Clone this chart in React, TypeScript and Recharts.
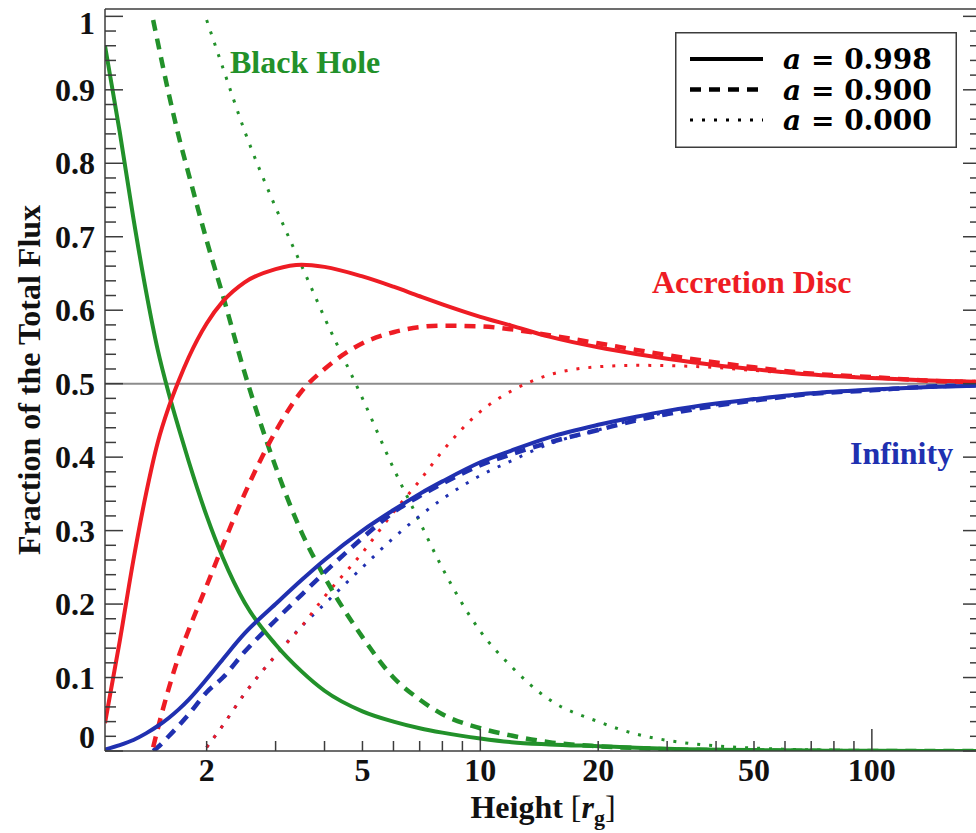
import { Legend, Line, LineChart, ReferenceLine, XAxis, YAxis } from 'recharts';

// heights (r_g) sampled for each spin; lines start at the horizon
const heightsA998 = [1.1, 1.2, 1.3, 1.4, 1.5, 1.6, 1.7, 1.8, 2, 2.2, 2.5, 3, 3.5, 4, 5, 6, 7, 8, 10, 12, 15, 20, 25, 30, 40, 50, 70, 100, 140, 190];
const heightsA900 = [1.46, 1.5, 1.6, 1.7, 1.8, 2, 2.2, 2.5, 3, 3.5, 4, 5, 6, 7, 8, 10, 12, 15, 20, 25, 30, 40, 50, 70, 100, 140, 190];
const heightsA000 = [2, 2.2, 2.5, 3, 3.5, 4, 5, 6, 7, 8, 10, 12, 15, 20, 25, 30, 40, 50, 70, 100, 140, 190];

// fraction of flux hitting the black hole
const holeA998 = [0.96, 0.842, 0.725, 0.626, 0.546, 0.487, 0.438, 0.394, 0.32, 0.263, 0.202, 0.145, 0.108, 0.082, 0.054, 0.04, 0.031, 0.025, 0.017, 0.012, 0.009, 0.0065, 0.0045, 0.003, 0.0018, 0.0012, 0.0006, 0.0003, 0.0001, 0];
const holeA900 = [0.995, 0.965, 0.895, 0.835, 0.785, 0.695, 0.62, 0.515, 0.387, 0.297, 0.237, 0.155, 0.1, 0.07, 0.05, 0.031, 0.021, 0.012, 0.0065, 0.004, 0.0025, 0.0012, 0.0007, 0.0003, 0.0001, 0, 0];
const holeA000 = [0.995, 0.93, 0.844, 0.74, 0.66, 0.59, 0.48, 0.385, 0.312, 0.249, 0.163, 0.115, 0.07, 0.04, 0.023, 0.0145, 0.007, 0.004, 0.0015, 0.0005, 0.0002, 0];

// fraction hitting the accretion disc
const discA998 = [0.038, 0.15, 0.26, 0.35, 0.42, 0.468, 0.505, 0.536, 0.582, 0.612, 0.638, 0.656, 0.662, 0.659, 0.646, 0.632, 0.619, 0.608, 0.591, 0.579, 0.564, 0.5495, 0.5405, 0.534, 0.5252, 0.5198, 0.5124, 0.5077, 0.5044, 0.5025];
const discA900 = [0.005, 0.03, 0.085, 0.13, 0.165, 0.225, 0.28, 0.35, 0.435, 0.49, 0.52, 0.555, 0.57, 0.577, 0.579, 0.578, 0.574, 0.566, 0.555, 0.546, 0.539, 0.5288, 0.5223, 0.5137, 0.5089, 0.504, 0.502];
const discA000 = [0.005, 0.035, 0.078, 0.13, 0.17, 0.21, 0.27, 0.325, 0.368, 0.408, 0.462, 0.49, 0.512, 0.523, 0.525, 0.5245, 0.522, 0.518, 0.5125, 0.5085, 0.5048, 0.503];

// fraction escaping to infinity
const infA998 = [0.002, 0.008, 0.015, 0.024, 0.034, 0.045, 0.057, 0.07, 0.098, 0.125, 0.16, 0.2, 0.233, 0.26, 0.3, 0.328, 0.35, 0.367, 0.393, 0.409, 0.427, 0.444, 0.455, 0.463, 0.473, 0.479, 0.487, 0.492, 0.4955, 0.4975];
const infA900 = [0, 0.005, 0.02, 0.035, 0.05, 0.08, 0.1, 0.135, 0.178, 0.213, 0.243, 0.29, 0.325, 0.347, 0.364, 0.389, 0.404, 0.42, 0.437, 0.45, 0.4585, 0.47, 0.477, 0.486, 0.491, 0.496, 0.498];
const infA000 = [0.005, 0.035, 0.078, 0.13, 0.17, 0.2, 0.25, 0.29, 0.32, 0.343, 0.375, 0.395, 0.418, 0.437, 0.452, 0.461, 0.471, 0.478, 0.486, 0.491, 0.495, 0.497];

const xTicks = [2, 3, 4, 5, 6, 7, 8, 9, 10, 20, 30, 40, 50, 60, 70, 80, 90, 100];
const xLabels = [2, 5, 10, 20, 50, 100];
const xMajor = [10, 100];
const yTicks = Array.from({ length: 51 }, (_, i) => Math.round(i * 2) / 100);

const GREEN = '#22912a';
const RED = '#ee1c24';
const BLUE = '#2030b0';
const AXIS = '#3c3c3c';
const SERIF = '"Liberation Serif", "Times New Roman", serif';
const TEX = '"DejaVu Serif", serif';

const series = (xs: number[], ys: number[]) => xs.map((x, i) => ({ x, y: ys[i] }));

const styles = {
  solid: { strokeWidth: 4, strokeDasharray: undefined },
  dashed: { strokeWidth: 4.5, strokeDasharray: '11 8' },
  dotted: { strokeWidth: 3, strokeDasharray: '3 9' },
};

const lines = [
  { key: 'hole0', data: series(heightsA000, holeA000), color: GREEN, style: styles.dotted },
  { key: 'inf0', data: series(heightsA000, infA000), color: BLUE, style: styles.dotted },
  { key: 'disc0', data: series(heightsA000, discA000), color: RED, style: styles.dotted },
  { key: 'hole9', data: series(heightsA900, holeA900), color: GREEN, style: styles.dashed },
  { key: 'inf9', data: series(heightsA900, infA900), color: BLUE, style: styles.dashed },
  { key: 'disc9', data: series(heightsA900, discA900), color: RED, style: styles.dashed },
  { key: 'hole998', data: series(heightsA998, holeA998), color: GREEN, style: styles.solid },
  { key: 'inf998', data: series(heightsA998, infA998), color: BLUE, style: styles.solid },
  { key: 'disc998', data: series(heightsA998, discA998), color: RED, style: styles.solid },
];

const isTenth = (v: number) => Math.abs(v * 10 - Math.round(v * 10)) < 1e-6;

const BottomTick = ({ x, y, payload }: any) => {
  const v = payload.value;
  const len = xMajor.includes(v) ? 22 : 10;
  return (
    <g>
      <line x1={x} y1={y} x2={x} y2={y - len} stroke={AXIS} strokeWidth={1.5} />
      {xLabels.includes(v) && (
        <text x={x} y={y + 30} textAnchor="middle" fontFamily={SERIF} fontWeight="bold" fontSize={32} fill="#111">
          {v}
        </text>
      )}
    </g>
  );
};

const TopTick = ({ x, y, payload }: any) => {
  const len = xMajor.includes(payload.value) ? 22 : 10;
  return <line x1={x} y1={y} x2={x} y2={y + len} stroke={AXIS} strokeWidth={1.5} />;
};

const LeftTick = ({ x, y, payload }: any) => {
  const v = payload.value;
  const major = isTenth(v);
  const label = v === 0 ? '0' : v === 1 ? '1' : v.toFixed(1);
  // end labels are nudged inside the frame, like the original
  const shift = v === 0 ? -14 : v === 1 ? 7 : 0;
  return (
    <g>
      <line x1={x} y1={y} x2={x + (major ? 18 : 11)} y2={y} stroke={AXIS} strokeWidth={1.5} />
      {major && (
        <text x={x - 10} y={y + 11 + shift} textAnchor="end" fontFamily={SERIF} fontWeight="bold" fontSize={32} fill="#111">
          {label}
        </text>
      )}
    </g>
  );
};

const RightTick = ({ x, y, payload }: any) => {
  const len = isTenth(payload.value) ? 18 : 11;
  return <line x1={x} y1={y} x2={x - len} y2={y} stroke={AXIS} strokeWidth={1.5} />;
};

const XTitle = ({ viewBox }: any) => (
  <text x={viewBox.x + viewBox.width / 2} y={viewBox.y + 67} textAnchor="middle" fontFamily={SERIF} fontWeight="bold" fontSize={32} fill="#111">
    Height <tspan fontWeight="normal">[</tspan>
    <tspan fontStyle="italic">r</tspan>
    <tspan fontSize={22} dy={7}>g</tspan>
    <tspan fontWeight="normal" dy={-7}>]</tspan>
  </text>
);

const YTitle = ({ viewBox }: any) => {
  const cy = viewBox.y + viewBox.height / 2;
  return (
    <text x={40} y={cy} transform={`rotate(-90 40 ${cy})`} textAnchor="middle" fontFamily={SERIF} fontWeight="bold" fontSize={32} fill="#111">
      Fraction of the Total Flux
    </text>
  );
};

const legendRows = [
  { label: '0.998', style: styles.solid },
  { label: '0.900', style: styles.dashed },
  { label: '0.000', style: styles.dotted },
];

const LegendBox = () => (
  <svg width={282} height={116} style={{ display: 'block' }}>
    <rect x={0.75} y={0.75} width={280.5} height={114.5} fill="#fff" stroke={AXIS} strokeWidth={1.5} />
    {legendRows.map((r, i) => {
      const cy = 27 + i * 30.5;
      return (
        <g key={r.label}>
          <line x1={15} y1={cy} x2={88} y2={cy} stroke="#000" strokeWidth={r.style.strokeWidth} strokeDasharray={r.style.strokeDasharray} />
          <text x={108} y={cy + 10} fontFamily={TEX} fontWeight="bold" fontSize={28} fill="#000">
            <tspan fontStyle="italic">a</tspan> = {r.label}
          </text>
        </g>
      );
    })}
  </svg>
);

export default function App() {
  return (
    <div style={{ position: 'absolute', left: 0, top: 0, width: 976, height: 833, overflow: 'hidden', background: '#fff' }}>
      <LineChart width={1000} height={833} margin={{ top: 8, right: 18, bottom: 0, left: 0 }}>
        <XAxis
          dataKey="x"
          type="number"
          scale="log"
          domain={[1.1, 190]}
          allowDataOverflow
          ticks={xTicks}
          interval={0}
          height={82}
          tickSize={0}
          tickMargin={0}
          tick={<BottomTick />}
          axisLine={{ stroke: AXIS, strokeWidth: 1.5 }}
          label={<XTitle />}
        />
        <XAxis
          xAxisId="top"
          orientation="top"
          type="number"
          scale="log"
          domain={[1.1, 190]}
          allowDataOverflow
          ticks={xTicks}
          interval={0}
          height={1}
          tickSize={0}
          tickMargin={0}
          tick={<TopTick />}
          axisLine={{ stroke: AXIS, strokeWidth: 1.5 }}
        />
        <YAxis
          type="number"
          domain={[0, 1.01]}
          allowDataOverflow
          ticks={yTicks}
          interval={0}
          width={105}
          tickSize={0}
          tickMargin={0}
          tick={<LeftTick />}
          axisLine={{ stroke: AXIS, strokeWidth: 1.5 }}
          label={<YTitle />}
        />
        <YAxis
          yAxisId="right"
          orientation="right"
          type="number"
          domain={[0, 1.01]}
          allowDataOverflow
          ticks={yTicks}
          interval={0}
          width={1}
          tickSize={0}
          tickMargin={0}
          tick={<RightTick />}
          axisLine={{ stroke: AXIS, strokeWidth: 1.5 }}
        />
        <ReferenceLine y={0.5} stroke="#8c8c8c" strokeWidth={2} />
        {lines.map((l) => (
          <Line
            key={l.key}
            data={l.data}
            dataKey="y"
            type="monotone"
            stroke={l.color}
            strokeWidth={l.style.strokeWidth}
            strokeDasharray={l.style.strokeDasharray}
            dot={false}
            activeDot={false}
            isAnimationActive={false}
          />
        ))}
        <Legend
          layout="horizontal"
          align="center"
          verticalAlign="middle"
          content={<LegendBox />}
          wrapperStyle={{ left: 675, top: 32, width: 282, height: 116 }}
        />
      </LineChart>
      <svg width={976} height={833} style={{ position: 'absolute', left: 0, top: 0, pointerEvents: 'none' }}>
        <text x={230} y={73} fontFamily={SERIF} fontWeight="bold" fontSize={32} fill={GREEN}>Black Hole</text>
        <text x={652} y={293} fontFamily={SERIF} fontWeight="bold" fontSize={32} fill={RED}>Accretion Disc</text>
        <text x={850} y={464} fontFamily={SERIF} fontWeight="bold" fontSize={32} fill={BLUE}>Infinity</text>
      </svg>
    </div>
  );
}
